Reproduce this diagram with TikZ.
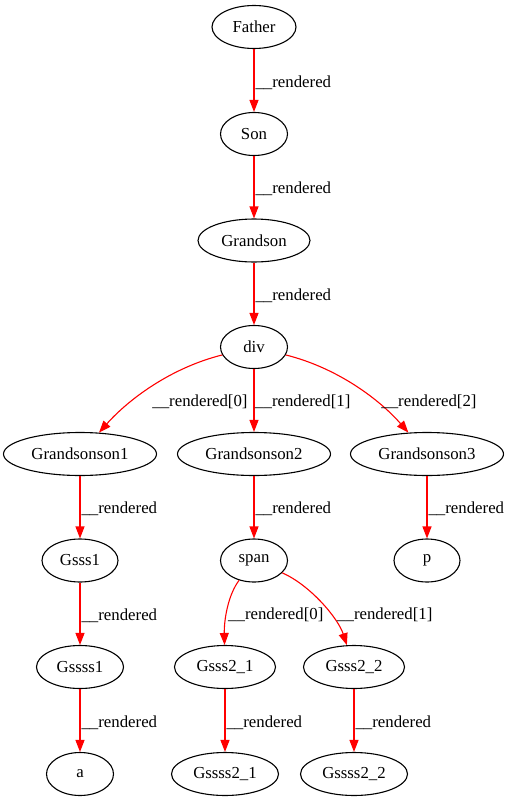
\documentclass[tikz,border=0pt]{standalone}
\usepackage{fontspec}
\setmainfont{Liberation Serif}
\usetikzlibrary{shapes.geometric,arrows.meta}
\begin{document}
\begin{tikzpicture}[x=1pt,y=-1pt,
  nd/.style={ellipse,draw=black,line width=1.1pt,inner sep=0pt,minimum height=43pt,font=\fontsize{16.8}{20}\selectfont},
  edge/.style={draw=red,line width=1.1pt,-{Triangle[length=12pt,width=9pt]}},
  lab/.style={inner sep=0pt,font=\fontsize{16.8}{20}\selectfont},
  slab/.style={lab,anchor=base west,pos=0.5,xshift=1pt,yshift=-6.7pt}]
\useasboundingbox (0,0) rectangle (511,800);
% nodes
\node[nd,minimum width=84pt] (father) at (254,27) {Father};
\node[nd,minimum width=67pt] (son) at (254,134) {Son};
\node[nd,minimum width=112pt] (grandson) at (254,240.5) {Grandson};
\node[nd,minimum width=67pt] (div) at (254,347) {div};
\node[nd,minimum width=153pt] (gs1) at (80,454) {Grandsonson1};
\node[nd,minimum width=153pt] (gs2) at (254,454) {Grandsonson2};
\node[nd,minimum width=153pt] (gs3) at (427,454) {Grandsonson3};
\node[nd,minimum width=76pt] (gsss1) at (80,560.5) {Gsss1};
\node[nd,minimum width=67pt] (span) at (254,560.5) {span};
\node[nd,minimum width=66pt] (p) at (427,560.5) {p};
\node[nd,minimum width=87pt] (gssss1) at (80,667) {Gssss1};
\node[nd,minimum width=101pt] (g21) at (225,667) {Gsss2\_1};
\node[nd,minimum width=101pt] (g22) at (354,667) {Gsss2\_2};
\node[nd,minimum width=67pt] (a) at (80,774) {a};
\node[nd,minimum width=107pt] (g421) at (225,774) {Gssss2\_1};
\node[nd,minimum width=107pt] (g422) at (354,774) {Gssss2\_2};
% straight edges
\draw[edge] (father) -- node[slab] {\_\_rendered} (son);
\draw[edge] (son) -- node[slab] {\_\_rendered} (grandson);
\draw[edge] (grandson) -- node[slab] {\_\_rendered} (div);
\draw[edge] (gs1) -- node[slab] {\_\_rendered} (gsss1);
\draw[edge] (gs2) -- node[slab] {\_\_rendered} (span);
\draw[edge] (gs3) -- node[slab] {\_\_rendered} (p);
\draw[edge] (gsss1) -- node[slab] {\_\_rendered} (gssss1);
\draw[edge] (gssss1) -- node[slab] {\_\_rendered} (a);
\draw[edge] (g21) -- node[slab] {\_\_rendered} (g421);
\draw[edge] (g22) -- node[slab] {\_\_rendered} (g422);
% curved edges from div
\draw[edge] (div) .. controls (170,368) and (128,400) .. (gs1);
\draw[edge] (div) -- (gs2);
\draw[edge] (div) .. controls (338,368) and (380,400) .. (gs3);
\node[lab,anchor=base] (l0) at (200,406) {\_\_rendered[0]};
\node[lab,anchor=base west] (l1) at (255,406) {\_\_rendered[1]};
\node[lab,anchor=base] (l2) at (429,406) {\_\_rendered[2]};
% curved edges from span
\draw[edge] (span) .. controls (228,595) and (224,620) .. (g21);
\draw[edge] (span) .. controls (310,585) and (338,618) .. (g22);
\node[lab,anchor=base west] (s0) at (228,619) {\_\_rendered[0]};
\node[lab,anchor=base west] (s1) at (337,619) {\_\_rendered[1]};
\end{tikzpicture}
\end{document}
